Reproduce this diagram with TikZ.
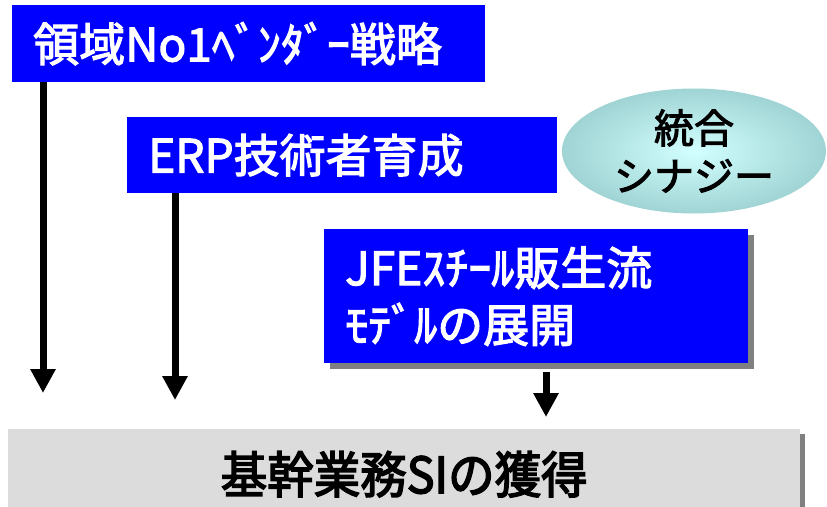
\documentclass[tikz,border=0pt]{standalone}
\usepackage{fontspec}
\setmainfont{Noto Sans CJK JP}[FakeBold=2.5]
\newfontfamily\narrowfont[FakeStretch=0.93,FakeBold=3]{Noto Sans CJK JP}
\usetikzlibrary{positioning}
\usetikzlibrary{calc}
\usetikzlibrary{arrows.meta}
\usetikzlibrary{shapes}
\usetikzlibrary{shadows}

\definecolor{boxblue}{RGB}{0,0,255}
\definecolor{goalgray}{RGB}{220,220,220}
\definecolor{shadowgray}{RGB}{128,128,128}
\definecolor{syninner}{RGB}{210,255,255}
\definecolor{synouter}{RGB}{160,212,212}

\begin{document}
\begin{tikzpicture}[
    x=1pt, y=-1pt,   % pixel-like grid, y going down
    ]
% -------------------------------------------------
\tikzset{
  base/.style={rectangle, anchor=north west, inner ysep=0pt},
  proc/.style={base, fill=boxblue, text=white, align=left, inner xsep=21pt,
    font=\fontsize{46}{57}\selectfont},
  goal/.style={base, fill=goalgray, align=center, minimum width=792pt, minimum height=90pt,
    drop shadow={shadow xshift=5pt, shadow yshift=-5pt, fill=shadowgray, opacity=1},
    font=\narrowfont\fontsize{50}{56}\selectfont},
  syn/.style={ellipse, inner sep=0pt, minimum width=264pt, minimum height=125pt,
    shading=radial, inner color=syninner, outer color=synouter, align=center,
    font=\fontsize{40}{48}\selectfont},
  line/.style={draw, line width=7pt, -{Triangle[width=24pt,length=24pt]}}
}
% -------------------------------------------------
\useasboundingbox (0,0) rectangle (827,506);

% Placing the nodes
\node [proc, text width=431pt, minimum height=77pt] (p0) at (12,5) {領域No1ﾍﾞﾝﾀﾞｰ戦略};
\node [proc, text width=388pt, minimum height=76pt] (p1) at (127,117) {ERP技術者育成};
\node [proc, text width=382pt, minimum height=134pt,
  drop shadow={shadow xshift=6pt, shadow yshift=-6pt, fill=shadowgray, opacity=1}]
  (p2) at (324,229) {JFEｽﾁｰﾙ販生流\\ﾓﾃﾞﾙの展開};

\node [syn] (s0) at (694,151) {統合\\シナジー};

\node [goal] (g0) at (8,429) {基幹業務SIの獲得};

% arrow ends
\coordinate (t0) at (43,393);
\coordinate (t1) at (175,400);
\coordinate (t2) at (546,417);

\path [line] (p0.south -| t0) -- (t0);
\path [line] (p1.south -| t1) -- (t1);
\path [line] ($(p2.south -| t2)+(0,9)$) -- (t2);

\end{tikzpicture}
\end{document}
